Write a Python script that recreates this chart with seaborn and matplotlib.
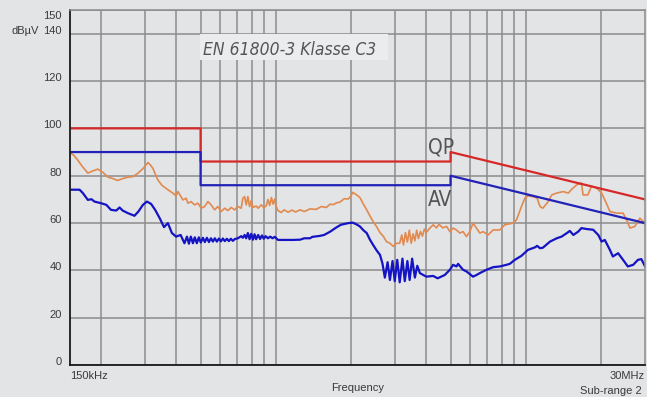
import matplotlib
matplotlib.use('Agg')
import matplotlib.pyplot as plt
import matplotlib.transforms as mtransforms
from matplotlib.patches import Rectangle
from matplotlib.ticker import FixedLocator, NullFormatter
import seaborn as sns
import pandas as pd

# measured QP trace (orange), frequency in MHz, level in dBuV
qp_freq = [0.150, 0.155, 0.161, 0.168, 0.177, 0.185, 0.194, 0.203, 0.213, 0.223,
           0.233, 0.244, 0.256, 0.268, 0.281, 0.294, 0.308, 0.315, 0.322, 0.337,
           0.350, 0.370, 0.387, 0.399, 0.406, 0.425, 0.438, 0.445, 0.458, 0.473,
           0.488, 0.503, 0.519, 0.535, 0.551, 0.569, 0.586, 0.605, 0.624, 0.643,
           0.663, 0.684, 0.705, 0.727, 0.738, 0.750, 0.761, 0.773, 0.785, 0.797,
           0.810, 0.834, 0.850, 0.874, 0.895, 0.915, 0.930, 0.945, 0.960, 0.975,
           0.990, 1.00, 1.02, 1.05, 1.08, 1.12, 1.16, 1.20, 1.25, 1.30,
           1.37, 1.45, 1.52, 1.59, 1.65, 1.70, 1.75, 1.80, 1.88, 1.95,
           2.00, 2.03, 2.10, 2.17, 2.24, 2.31, 2.38, 2.45, 2.53, 2.61,
           2.69, 2.77, 2.86, 2.95, 3.04, 3.13, 3.19, 3.24, 3.30, 3.36,
           3.42, 3.48, 3.54, 3.60, 3.66, 3.72, 3.79, 3.86, 3.93, 4.00,
           4.10, 4.26, 4.39, 4.50, 4.65, 4.82, 4.97, 5.12, 5.28, 5.45,
           5.61, 5.79, 5.97, 6.15, 6.35, 6.55, 6.75, 7.07, 7.40, 7.87,
           8.24, 8.90, 9.18, 9.61, 9.91, 10.2, 10.7, 11.1, 11.4, 11.7,
           12.3, 12.7, 13.3, 14.1, 14.8, 15.2, 16.0, 16.7, 16.95, 17.7,
           18.3, 19.2, 20.1, 21.0, 21.7, 23.1, 24.5, 25.3, 26.1, 27.3,
           28.6, 29.5, 30.0]
qp_level = [89.6, 88.8, 86.7, 84.0, 81.1, 82.0, 82.8, 81.5, 79.4, 78.8,
            78.0, 78.8, 79.4, 79.6, 81.1, 83.0, 85.6, 84.5, 83.2, 78.3,
            76.0, 74.1, 72.7, 71.5, 73.3, 69.8, 70.5, 68.4, 69.1, 67.7,
            68.4, 66.3, 67.0, 69.1, 67.7, 65.6, 67.0, 64.9, 66.3, 65.3,
            66.6, 65.6, 67.0, 66.3, 70.5, 71.2, 67.7, 71.2, 67.0, 69.5,
            66.6, 67.2, 66.3, 67.7, 66.6, 67.2, 70.0, 67.5, 70.8, 68.0,
            70.2, 67.5, 65.3, 64.5, 65.6, 64.6, 65.5, 64.7, 65.6, 64.9,
            66.0, 65.8, 67.0, 66.6, 68.0, 67.8, 68.6, 68.8, 70.3, 70.2,
            71.5, 73.0, 72.0, 70.8, 68.0, 65.6, 63.0, 60.7, 58.5, 56.0,
            54.5, 52.2, 51.5, 50.2, 51.5, 51.5, 55.0, 50.8, 56.0, 52.0,
            57.0, 51.5, 55.5, 52.5, 57.0, 53.5, 56.5, 54.5, 57.5, 56.0,
            57.5, 59.3, 58.0, 59.5, 58.0, 58.6, 56.4, 57.9, 57.1, 55.8,
            56.4, 54.3, 56.4, 60.0, 57.9, 55.8, 56.4, 55.0, 57.1, 57.1,
            59.3, 60.0, 61.4, 67.0, 70.5, 71.5, 71.2, 70.5, 67.0, 66.3,
            69.1, 71.9, 72.7, 73.3, 72.7, 74.1, 76.2, 76.9, 71.9, 71.9,
            75.5, 74.8, 72.7, 68.4, 64.9, 64.2, 64.2, 61.4, 57.9, 58.6,
            62.1, 60.7, 59.3]

# measured AV trace (blue)
av_freq = [0.150, 0.164, 0.169, 0.177, 0.183, 0.188, 0.200, 0.210, 0.219, 0.230,
           0.237, 0.244, 0.256, 0.272, 0.282, 0.294, 0.305, 0.317, 0.329, 0.343,
           0.357, 0.370, 0.384, 0.399, 0.416, 0.431, 0.441, 0.449, 0.457, 0.466,
           0.474, 0.483, 0.492, 0.501, 0.511, 0.520, 0.530, 0.540, 0.550, 0.560,
           0.570, 0.581, 0.592, 0.603, 0.614, 0.625, 0.637, 0.649, 0.661, 0.673,
           0.686, 0.705, 0.727, 0.738, 0.750, 0.761, 0.773, 0.785, 0.797, 0.810,
           0.822, 0.834, 0.850, 0.865, 0.880, 0.895, 0.910, 0.930, 0.950, 0.970,
           0.990, 1.02, 1.10, 1.17, 1.25, 1.30, 1.37, 1.40, 1.50, 1.56,
           1.65, 1.73, 1.82, 1.95, 2.03, 2.10, 2.17, 2.24, 2.31, 2.38,
           2.45, 2.53, 2.61, 2.67, 2.73, 2.80, 2.86, 2.93, 2.99, 3.06,
           3.13, 3.21, 3.28, 3.36, 3.43, 3.51, 3.60, 3.68, 3.77, 4.00,
           4.26, 4.44, 4.74, 4.97, 5.12, 5.28, 5.36, 5.61, 5.79, 6.15,
           6.35, 6.55, 6.96, 7.40, 7.87, 8.37, 8.63, 9.04, 9.61, 10.2,
           10.9, 11.1, 11.4, 11.7, 12.5, 13.3, 13.9, 14.6, 15.0, 15.5,
           16.2, 16.7, 17.5, 18.6, 19.5, 20.1, 20.7, 21.7, 22.3, 23.4,
           24.5, 25.6, 26.9, 28.1, 29.0, 30.0]
av_level = [74.1, 74.1, 72.7, 69.8, 70.1, 69.1, 68.4, 67.7, 65.6, 65.3,
            66.6, 65.3, 64.2, 63.1, 64.9, 67.7, 69.1, 68.1, 65.6, 62.1,
            58.3, 60.0, 55.8, 54.3, 55.0, 51.5, 54.3, 51.3, 54.3, 51.5,
            54.0, 51.5, 54.0, 51.8, 53.8, 52.0, 53.8, 52.0, 53.6, 52.2,
            53.6, 52.2, 53.5, 52.3, 53.5, 52.4, 53.4, 52.4, 53.4, 52.5,
            53.3, 53.6, 54.5, 53.8, 55.0, 53.6, 55.8, 53.2, 55.5, 53.0,
            55.3, 53.2, 55.0, 53.3, 54.8, 53.4, 54.5, 53.6, 54.3, 53.6,
            54.2, 52.9, 52.9, 52.9, 53.0, 53.6, 53.6, 54.2, 54.6, 55.0,
            56.4, 57.9, 59.3, 60.0, 60.2, 59.5, 58.6, 57.0, 55.8, 53.0,
            50.8, 48.5, 46.6, 43.0, 37.0, 43.5, 36.0, 44.0, 35.5, 44.5,
            35.0, 45.0, 35.5, 44.0, 36.0, 45.0, 37.0, 42.0, 38.9, 37.4,
            37.7, 36.7, 38.1, 40.3, 42.4, 41.7, 42.8, 40.3, 39.6, 37.4,
            38.1, 38.9, 40.3, 41.4, 41.7, 42.4, 42.8, 44.5, 46.2, 48.7,
            49.8, 50.4, 49.4, 49.6, 52.2, 53.6, 54.3, 55.8, 56.7, 55.0,
            56.4, 57.9, 57.5, 57.2, 55.0, 52.2, 52.9, 48.7, 45.9, 47.3,
            44.5, 41.7, 42.4, 44.5, 44.8, 41.7]

# EN 61800-3 C3 limit lines
limit_freq = [0.15, 0.5, 0.5, 5.0, 5.0, 30.0]
qp_limit = [100, 100, 86, 86, 90, 70]
av_limit = [90, 90, 76, 76, 80, 60]

y_ticks = [0, 20, 40, 60, 80, 100, 120, 140, 150]

BG = '#e3e4e6'
GRID = '#8c8c8c'
TXT = '#3a3a3a'

sns.set_style('white', {'axes.facecolor': BG, 'figure.facecolor': BG})
plt.rcParams['font.family'] = ['Liberation Sans', 'DejaVu Sans']

fig = plt.figure(figsize=(6.47, 3.97), dpi=100)
ax = fig.add_axes([0.108, 0.080, 0.889, 0.895])

qp_df = pd.DataFrame({'f': qp_freq, 'dB': qp_level})
av_df = pd.DataFrame({'f': av_freq, 'dB': av_level})
lim_df = pd.DataFrame({'f': limit_freq, 'qp': qp_limit, 'av': av_limit})

sns.lineplot(data=qp_df, x='f', y='dB', ax=ax, color='#e2894e', lw=1.2,
             estimator=None, sort=False, legend=False)
sns.lineplot(data=av_df, x='f', y='dB', ax=ax, color='#1414c4', lw=1.6,
             estimator=None, sort=False, legend=False)
sns.lineplot(data=lim_df, x='f', y='qp', ax=ax, color='#d62828', lw=1.6,
             estimator=None, sort=False, legend=False)
sns.lineplot(data=lim_df, x='f', y='av', ax=ax, color='#2222b8', lw=1.6,
             estimator=None, sort=False, legend=False)

ax.set_xscale('log')
ax.set_xlim(0.15, 30)
ax.set_ylim(0, 150)

# x axis: only the range ends labelled, grid on every 1..9 decade step
ax.set_xticks([0.15, 30])
ax.set_xticklabels(['150kHz', '30MHz'])
grid_f = [m * 10.0 ** e for e in (-1, 0, 1) for m in range(1, 10)]
ax.xaxis.set_minor_locator(FixedLocator([g for g in grid_f if 0.15 < g < 30]))
ax.xaxis.set_minor_formatter(NullFormatter())
ax.set_yticks(y_ticks)
ax.set_yticklabels([str(v) for v in y_ticks])

ax.tick_params(axis='x', which='major', length=4, width=1, color='#222222',
               labelsize=8, labelcolor=TXT, pad=0.5)
ax.tick_params(axis='x', which='minor', length=0)
ax.tick_params(axis='y', length=4, width=1, color='#222222',
               labelsize=8, labelcolor=TXT, pad=2)

xl = ax.get_xticklabels()
xl[0].set_ha('left')
xl[-1].set_ha('right')
for lbl in ax.get_yticklabels():
    lbl.set_va('baseline')
top_lbl = ax.get_yticklabels()[-1]
top_lbl.set_transform(top_lbl.get_transform() +
                      mtransforms.ScaledTranslation(0, -0.09, fig.dpi_scale_trans))
ax.yaxis.get_major_ticks()[-1].tick1line.set_visible(False)

ax.set_axisbelow(True)
ax.grid(which='minor', axis='x', color=GRID, lw=1.1)
ax.grid(which='major', axis='y', color=GRID, lw=1.1)
ax.grid(which='major', axis='x', visible=False)

for s in ('left', 'bottom'):
    ax.spines[s].set_color('#1a1a1a')
    ax.spines[s].set_linewidth(1.3)
for s in ('top', 'right'):
    ax.spines[s].set_color(GRID)
    ax.spines[s].set_linewidth(1.1)

ax.set_xlabel('')
ax.set_ylabel('')

# title box
ax.add_patch(Rectangle((0.226, 0.860), 0.327, 0.072, transform=ax.transAxes,
                       facecolor='#ebecee', edgecolor='none', zorder=2.5))
cond = dict(family=['Liberation Sans Narrow', 'DejaVu Sans'],
            stretch='condensed', style='italic', color='#555555')
ax.text(0.231, 0.873, 'EN 61800-3 Klasse C3', transform=ax.transAxes,
        fontsize=12.5, va='baseline', ha='left', zorder=3, **cond)
ax.text(4.05, 96, 'QP', fontsize=15, va='top', ha='left', zorder=3,
        family=['Liberation Sans Narrow', 'DejaVu Sans'], stretch='condensed',
        color='#555555')
ax.text(4.05, 74, 'AV', fontsize=15, va='top', ha='left', zorder=3,
        family=['Liberation Sans Narrow', 'DejaVu Sans'], stretch='condensed',
        color='#555555')

fig.text(0.0185, 0.9146, 'dBµV', fontsize=8, color=TXT, ha='left', va='baseline')
fig.text(0.553, 0.016, 'Frequency', fontsize=8, color=TXT, ha='center', va='baseline')
fig.text(0.992, 0.008, 'Sub-range 2', fontsize=8, color=TXT, ha='right', va='baseline')

fig.savefig('out.png', dpi=100, facecolor=BG)
